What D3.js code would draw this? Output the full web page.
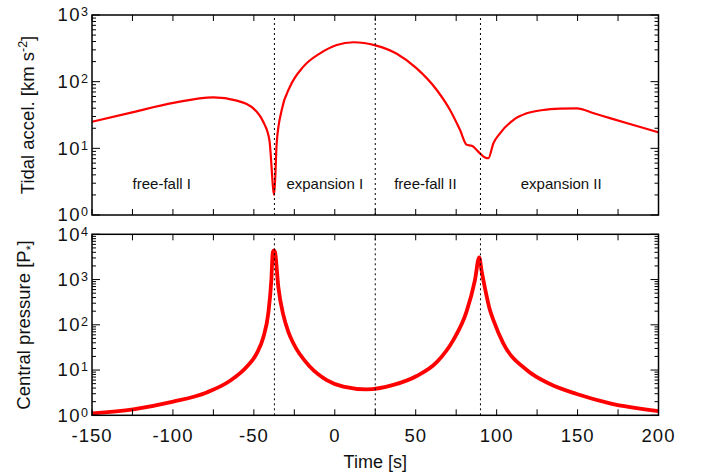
<!DOCTYPE html>
<html>
<head>
<meta charset="utf-8">
<script src="https://cdn.jsdelivr.net/npm/d3@7"></script>
<style>
  body { margin: 0; background: #fff; }
  svg { font-family: "Liberation Sans", Arial, sans-serif; }
</style>
</head>
<body>
<div id="chart"></div>
<script>
// tidal acceleration (top panel)
const tidalTime  = [-150, -124.5, -99.8, -75, -60.6, -48.2, -44.2, -40.4, -37.4, -35.9, -32.8, -27.7, -19.4, -9.1, 1.2, 11.5, 25.1, 38.3, 50.6, 63, 71.2, 77.4, 81.5, 84.6, 89.7, 92.8, 94.9, 98, 102.1, 110.3, 118.6, 128.8, 139.1, 149.5, 160, 170, 185, 200];
const tidalAccel = [25, 35, 48, 58, 52, 35.5, 25, 13.3, 2.0, 11.9, 37.6, 84, 168, 266, 355, 390, 350, 262, 158, 75, 37.6, 18.8, 11.3, 10.9, 8.4, 7.3, 7.1, 11.9, 16.8, 26.6, 33.5, 37.6, 39.3, 39.8, 33.6, 28.4, 22.2, 17.4];

// central pressure (bottom panel)
const pressTime = [-150, -124.5, -99.8, -79.1, -64.7, -54.4, -48.2, -44.1, -41.1, -39.2, -38.3, -37.6, -36.9, -34.9, -31.8, -28.7, -25.6, -15.3, -5, 5.3, 19.7, 36.2, 50.6, 63, 73.2, 81.5, 86.6, 89.2, 90.8, 91.8, 95.9, 98, 104.1, 118.6, 133, 149.5, 170, 200];
const pressure  = [1.1, 1.36, 2.0, 3.2, 5.8, 11.8, 23.4, 54, 178, 975, 4000, 4400, 4000, 690, 165, 70, 39, 11.8, 6.0, 4.3, 3.74, 4.7, 7.4, 15, 46, 200, 975, 3100, 1500, 975, 210, 127, 39, 10, 4.9, 2.95, 1.84, 1.24];

// phase boundaries and phase names
const phaseTimes  = [-37.3, 25, 90];
const phaseLabels = ["free-fall I", "expansion I", "free-fall II", "expansion II"];
const phaseAt     = [-106.9, -6.2, 56, 139.9];

const xTicks = [-150, -100, -50, 0, 50, 100, 150, 200];

const W = 707, H = 476;
const svg = d3.select('#chart').append('svg')
    .attr('width', W)
    .attr('height', H);

const x = d3.scaleLinear().domain([-150, 200]).range([92, 658.5]);

const panels = [
    { y: d3.scaleLog().domain([1, 1e3]).range([215, 15]), t: tidalTime, v: tidalAccel, lw: 2.2 },
    { y: d3.scaleLog().domain([1, 1e4]).range([415.3, 234.3]), t: pressTime, v: pressure, lw: 3.8 }
];

panels.forEach((p, k) => {
    const g = svg.append('g');
    const [y0, y1] = p.y.range();

    // the curve
    const line = d3.line()
        .x(d => x(d[0]))
        .y(d => p.y(d[1]))
        .curve(d3.curveMonotoneX);
    g.append('path')
        .datum(p.t.map((t, i) => [t, p.v[i]]))
        .attr('d', line)
        .attr('fill', 'none')
        .attr('stroke', '#ff0000')
        .attr('stroke-width', p.lw)
        .attr('stroke-linejoin', 'round');

    // phase boundaries
    g.selectAll('line.phase')
        .data(phaseTimes)
        .enter().append('line')
        .attr('x1', d => x(d)).attr('x2', d => x(d))
        .attr('y1', y0).attr('y2', y1)
        .attr('stroke', '#000')
        .attr('stroke-width', 1)
        .attr('stroke-dasharray', '2,3');

    // x ticks every 25 s, inward on both edges
    const xt = d3.range(-150, 201, 25);
    xt.forEach(t => {
        g.append('line').attr('x1', x(t)).attr('x2', x(t)).attr('y1', y0).attr('y2', y0 - 6)
            .attr('stroke', '#000');
        g.append('line').attr('x1', x(t)).attr('x2', x(t)).attr('y1', y1).attr('y2', y1 + 6)
            .attr('stroke', '#000');
    });

    // log ticks, inward on both sides
    const [xl, xr] = x.range();
    p.y.ticks().forEach(v => {
        const major = Math.abs(Math.log10(v) - Math.round(Math.log10(v))) < 1e-9;
        const len = major ? 8 : 4;
        g.append('line').attr('x1', xl).attr('x2', xl + len).attr('y1', p.y(v)).attr('y2', p.y(v))
            .attr('stroke', '#000');
        g.append('line').attr('x1', xr).attr('x2', xr - len).attr('y1', p.y(v)).attr('y2', p.y(v))
            .attr('stroke', '#000');
        if (major) {
            const lab = g.append('text')
                .attr('x', 88).attr('y', p.y(v) + 6.4)
                .attr('text-anchor', 'end')
                .attr('font-size', 18.5)
                .attr('letter-spacing', 1.5)
                .attr('fill', '#111');
            lab.append('tspan').text('10');
            lab.append('tspan').attr('dy', -5).attr('font-size', 12.5).attr('letter-spacing', 0)
                .text(Math.round(Math.log10(v)));
        }
    });

    // frame
    g.append('rect')
        .attr('x', xl).attr('y', y1)
        .attr('width', xr - xl).attr('height', y0 - y1)
        .attr('fill', 'none')
        .attr('stroke', '#000')
        .attr('stroke-width', 1.5);
});

// phase names in the top panel
svg.selectAll('text.phase')
    .data(phaseLabels)
    .enter().append('text')
    .attr('class', 'phase')
    .attr('x', (d, i) => x(phaseAt[i]))
    .attr('y', 188.5)
    .attr('text-anchor', 'middle')
    .attr('font-size', 15)
    .attr('fill', '#111')
    .text(d => d);

// x tick labels under the bottom panel
svg.selectAll('text.xt')
    .data(xTicks)
    .enter().append('text')
    .attr('class', 'xt')
    .attr('x', d => x(d))
    .attr('y', 441.5)
    .attr('text-anchor', 'middle')
    .attr('font-size', 18.5)
    .attr('letter-spacing', 1)
    .attr('fill', '#111')
    .text(d => d);

svg.append('text')
    .attr('x', x(25)).attr('y', 468)
    .attr('text-anchor', 'middle')
    .attr('font-size', 18)
    .attr('fill', '#111')
    .text('Time [s]');

// y axis titles
const t1 = svg.append('text')
    .attr('transform', 'translate(34,115) rotate(-90)')
    .attr('text-anchor', 'middle')
    .attr('font-size', 18.5)
    .attr('fill', '#111');
t1.append('tspan').text('Tidal accel. [km s');
t1.append('tspan').attr('dy', -7).attr('font-size', 12.5).text('-2');
t1.append('tspan').attr('dy', 7).text(']');

const t2 = svg.append('text')
    .attr('transform', 'translate(30,325) rotate(-90)')
    .attr('text-anchor', 'middle')
    .attr('font-size', 18.5)
    .attr('fill', '#111');
t2.append('tspan').text('Central pressure [P');
t2.append('tspan').attr('dy', 5).attr('font-size', 12.5).text('*');
t2.append('tspan').attr('dy', -5).text(']');
</script>
</body>
</html>
